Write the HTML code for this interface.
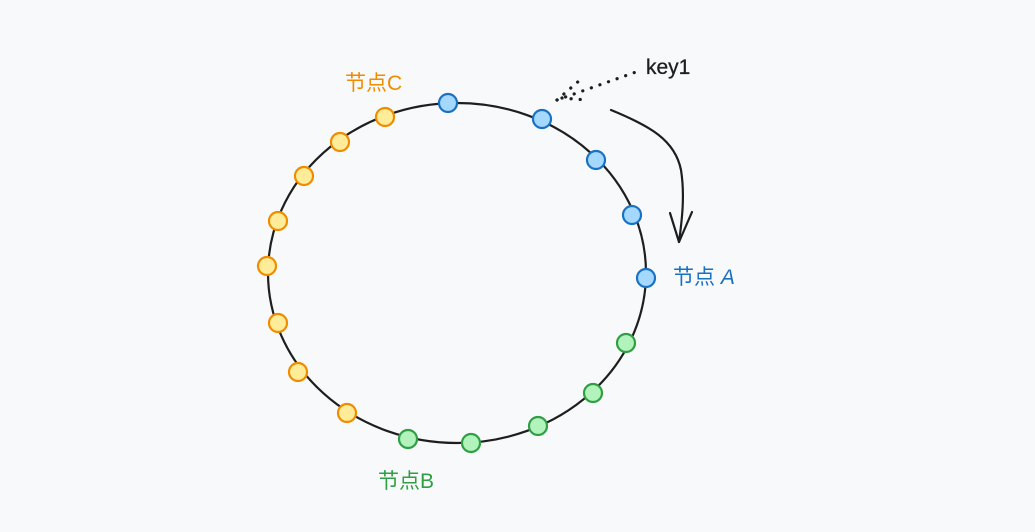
<!DOCTYPE html>
<html><head><meta charset="utf-8"><style>
html,body{margin:0;padding:0;background:#f8f9fa;}
svg{display:block}
text{font-family:"Liberation Sans","Noto Sans CJK SC",sans-serif;}
</style></head><body>
<svg width="1035" height="532" viewBox="0 0 1035 532" xmlns="http://www.w3.org/2000/svg">
<rect width="1035" height="532" fill="#f8f9fa"/>
<ellipse cx="457" cy="273" rx="189" ry="170" fill="none" stroke="#1e1e1e" stroke-width="2.2"/>
<g fill="#a5d8ff" stroke="#1971c2" stroke-width="2.2">
<circle cx="448" cy="103" r="9"/>
<circle cx="542" cy="119" r="9"/>
<circle cx="596" cy="160" r="9"/>
<circle cx="632" cy="215" r="9"/>
<circle cx="646" cy="278" r="9"/>
</g>
<g fill="#b2f2bb" stroke="#2f9e44" stroke-width="2.2">
<circle cx="626" cy="343" r="9"/>
<circle cx="593" cy="393" r="9"/>
<circle cx="538" cy="426" r="9"/>
<circle cx="471" cy="443" r="9"/>
<circle cx="408" cy="439" r="9"/>
</g>
<g fill="#ffec99" stroke="#f08c00" stroke-width="2.2">
<circle cx="347" cy="413" r="9"/>
<circle cx="298" cy="372" r="9"/>
<circle cx="278" cy="323" r="9"/>
<circle cx="267" cy="266" r="9"/>
<circle cx="278" cy="221" r="9"/>
<circle cx="304" cy="176" r="9"/>
<circle cx="340" cy="142" r="9"/>
<circle cx="385" cy="117" r="9"/>
</g>
<g stroke="#1e1e1e" stroke-width="3.2" stroke-linecap="round" stroke-dasharray="0.1 9" fill="none">
<path d="M557 100 L636 72"/>
<path d="M557 100 L580 80"/>
<path d="M562 98 L587 100"/>
</g>
<text x="646" y="74" font-size="21" fill="#1e1e1e" stroke="#1e1e1e" stroke-width="0.3">key1</text>
<path d="M611 110 C650 126 675 140 681 170 C685 195 682 220 679 242" fill="none" stroke="#1e1e1e" stroke-width="2.2" stroke-linecap="round"/>
<path d="M670 213 L679 242 L692 212" fill="none" stroke="#1e1e1e" stroke-width="2.2" stroke-linecap="round" stroke-linejoin="round"/>
<text x="673" y="284" font-size="21" fill="#1971c2">节点 <tspan font-style="italic">A</tspan></text>
<text x="345" y="90" font-size="21" fill="#f08c00">节点C</text>
<text x="378" y="488" font-size="21" fill="#2f9e44">节点B</text>
</svg>
</body></html>
